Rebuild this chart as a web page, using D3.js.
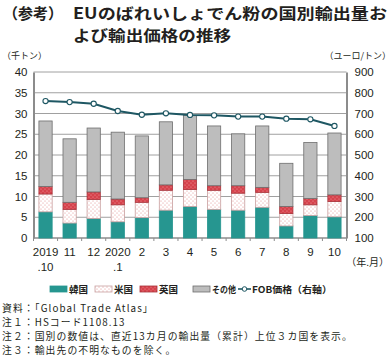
<!DOCTYPE html>
<html><head><meta charset="utf-8">
<script src="https://cdn.jsdelivr.net/npm/d3@7"></script>
<style>
body{margin:0;background:#fff;}
svg{display:block;font-family:"Noto Sans CJK JP","Noto Sans",sans-serif;}
</style></head>
<body><svg id="c" width="392" height="357"></svg>
<script>
const categories = ["2019\n.10","11","12","2020\n.1","2","3","4","5","6","7","8","9","10"];
const korea = [6.3,3.6,4.7,3.9,4.9,6.7,7.6,6.9,6.7,7.4,2.9,5.4,5.1];
const usa   = [4.3,3.3,4.6,4.1,3.7,4.8,4.1,4.6,4.1,3.6,3.0,2.6,3.7];
const uk    = [1.8,1.7,1.8,1.4,1.1,1.3,2.4,1.1,1.8,1.2,1.7,1.5,1.6];
const other = [15.8,15.3,15.4,16.1,14.9,15.2,15.4,14.4,12.5,14.8,10.4,13.5,14.9];
const fob   = [760,755,747,712,694,701,693,691,685,685,675,672,640];
const leftTicks = [0,5,10,15,20,25,30,35,40];
const rightTicks = [100,200,300,400,500,600,700,800,900];
const seriesNames = ["韓国","米国","英国","その他"];

const svg = d3.select("#c");
const txt = "#231f20";
const L = 33.5, R = 346.5, T = 72, B = 238;
const x = d3.scaleBand().domain(categories).range([L,R]).paddingInner(0.45).paddingOuter(0.225);
const y = d3.scaleLinear().domain([0,40]).range([B,T]);
const y2 = d3.scaleLinear().domain([100,900]).range([B,T]);

// patterns
const defs = svg.append("defs");
const pu = defs.append("pattern").attr("id","pUS").attr("patternUnits","userSpaceOnUse").attr("width",4).attr("height",4);
pu.append("rect").attr("width",4).attr("height",4).attr("fill","#fff");
pu.append("circle").attr("cx",1).attr("cy",1).attr("r",0.55).attr("fill","#e08a8a");
pu.append("circle").attr("cx",3).attr("cy",3).attr("r",0.55).attr("fill","#e08a8a");
const pk = defs.append("pattern").attr("id","pUK").attr("patternUnits","userSpaceOnUse").attr("width",4).attr("height",4);
pk.append("rect").attr("width",4).attr("height",4).attr("fill","#d6424c");
pk.append("circle").attr("cx",1).attr("cy",1).attr("r",0.6).attr("fill","#f0a0a0");
pk.append("circle").attr("cx",3).attr("cy",3).attr("r",0.6).attr("fill","#f0a0a0");

const fills = ["#269690","url(#pUS)","url(#pUK)","#bdbdbd"];
const strokes = ["#269690","#c9a0a0","#a8323a","#6e6e6e"];

// title
const tf = 15.1;
svg.append("text").attr("x",3).attr("y",18.5).attr("font-size",tf).attr("font-weight","bold").attr("fill",txt)
  .attr("textLength",60).attr("lengthAdjust","spacingAndGlyphs").text("（参考）");
svg.append("text").attr("x",73).attr("y",18.5).attr("font-size",tf).attr("font-weight","bold").attr("fill",txt)
  .attr("textLength",314).attr("lengthAdjust","spacingAndGlyphs").text("EUのばれいしょでん粉の国別輸出量お");
svg.append("text").attr("x",73).attr("y",40.5).attr("font-size",tf).attr("font-weight","bold").attr("fill",txt)
  .attr("textLength",158).attr("lengthAdjust","spacingAndGlyphs").text("よび輸出価格の推移");

svg.append("text").attr("x",2).attr("y",59).attr("font-size",9).attr("fill",txt).text("（千トン）");
svg.append("text").attr("x",391).attr("y",59).attr("font-size",9).attr("fill",txt).attr("text-anchor","end").text("（ユーロ/トン）");

// grid
svg.append("g").selectAll("line").data(leftTicks.filter(d=>d>0)).join("line")
  .attr("x1",L).attr("x2",R).attr("y1",d=>y(d)).attr("y2",d=>y(d))
  .attr("stroke","#a0a0a0").attr("stroke-width",1);

// left axis
const ga = svg.append("g").attr("transform",`translate(${L},0)`)
  .call(d3.axisLeft(y).tickValues(leftTicks).tickSize(0).tickPadding(6));
ga.select(".domain").attr("stroke","#8c8c8c").attr("stroke-width",2);
ga.selectAll("text").attr("font-size",11.5).attr("fill",txt).attr("font-family","Liberation Sans, Arial, sans-serif");
const gb = svg.append("g").attr("transform",`translate(${R},0)`)
  .call(d3.axisRight(y2).tickValues(rightTicks).tickSize(0).tickPadding(8));
gb.select(".domain").attr("stroke","#8c8c8c").attr("stroke-width",2);
gb.selectAll("text").attr("font-size",11.5).attr("fill",txt).attr("font-family","Liberation Sans, Arial, sans-serif");

// bottom axis line + ticks at band boundaries
svg.append("line").attr("x1",L).attr("x2",R).attr("y1",B).attr("y2",B).attr("stroke","#8c8c8c").attr("stroke-width",1.5);
const step = x.step();
svg.append("g").selectAll("line").data(d3.range(categories.length+1)).join("line")
  .attr("x1",i=>L+i*step).attr("x2",i=>L+i*step).attr("y1",B).attr("y2",B+3)
  .attr("stroke","#8c8c8c").attr("stroke-width",1);

// x labels
const xl = svg.append("g").selectAll("text").data(categories).join("text")
  .attr("x",d=>x(d)+x.bandwidth()/2).attr("y",256).attr("text-anchor","middle")
  .attr("font-size",11.5).attr("fill",txt).attr("font-family","Liberation Sans, Arial, sans-serif");
xl.each(function(d){
  const parts = d.split("\n");
  d3.select(this).selectAll("tspan").data(parts).join("tspan")
    .attr("x",x(d)+x.bandwidth()/2).attr("dy",(p,i)=>i===0?0:15).text(p=>p);
});
svg.append("text").attr("x",389).attr("y",266).attr("text-anchor","end").attr("font-size",10).attr("fill",txt).text("（年.月）");

// stacked bars
const rows = categories.map((c,i)=>({c,"韓国":korea[i],"米国":usa[i],"英国":uk[i],"その他":other[i]}));
const stacked = d3.stack().keys(seriesNames)(rows);
svg.append("g").selectAll("g").data(stacked).join("g")
  .attr("fill",(d,i)=>fills[i]).attr("stroke",(d,i)=>strokes[i]).attr("stroke-width",0.8)
  .selectAll("rect").data(d=>d).join("rect")
  .attr("x",d=>x(d.data.c)).attr("width",x.bandwidth())
  .attr("y",d=>y(d[1])).attr("height",d=>y(d[0])-y(d[1]));

// line
const lineColor = "#1e5763";
svg.append("path").datum(fob).attr("fill","none").attr("stroke",lineColor).attr("stroke-width",2)
  .attr("d",d3.line().x((d,i)=>x(categories[i])+x.bandwidth()/2).y(d=>y2(d)));
svg.append("g").selectAll("circle").data(fob).join("circle")
  .attr("cx",(d,i)=>x(categories[i])+x.bandwidth()/2).attr("cy",d=>y2(d)).attr("r",2.6)
  .attr("fill","#fff").attr("stroke",lineColor).attr("stroke-width",1.1);

// legend
const lg = svg.append("g");
const ly = 289;
const legItems = [
  {x:50,t:"韓国",i:0,w:19},{x:95,t:"米国",i:1,w:19},{x:140,t:"英国",i:2,w:19},{x:193,t:"その他",i:3,w:24}];
legItems.forEach(it=>{
  lg.append("rect").attr("x",it.x).attr("y",ly-3).attr("width",17).attr("height",6)
    .attr("fill",fills[it.i]).attr("stroke",strokes[it.i]).attr("stroke-width",0.8);
  lg.append("text").attr("x",it.x+19).attr("y",ly+3.5).attr("font-size",9.5).attr("font-weight","bold").attr("fill",txt)
    .attr("textLength",it.w).attr("lengthAdjust","spacingAndGlyphs").text(it.t);
});
lg.append("line").attr("x1",238).attr("x2",251).attr("y1",ly).attr("y2",ly).attr("stroke",lineColor).attr("stroke-width",1.6);
lg.append("circle").attr("cx",244.5).attr("cy",ly).attr("r",2.3).attr("fill","#fff").attr("stroke",lineColor).attr("stroke-width",1);
lg.append("text").attr("x",252).attr("y",ly+3.5).attr("font-size",9.5).attr("font-weight","bold").attr("fill",txt)
  .attr("textLength",80).attr("lengthAdjust","spacingAndGlyphs").text("FOB価格（右軸）");

// notes
const notes = ["資料：「Global Trade Atlas」","注１：HSコード1108.13","注２：国別の数値は、直近13カ月の輸出量（累計）上位３カ国を表示。","注３：輸出先の不明なものを除く。"];
svg.append("g").selectAll("text").data(notes).join("text")
  .attr("x",2).attr("y",(d,i)=>311.5+i*14.3).attr("font-size",9.8).attr("letter-spacing",1.1)
  .attr("fill",txt).text(d=>d);
</script></body></html>
